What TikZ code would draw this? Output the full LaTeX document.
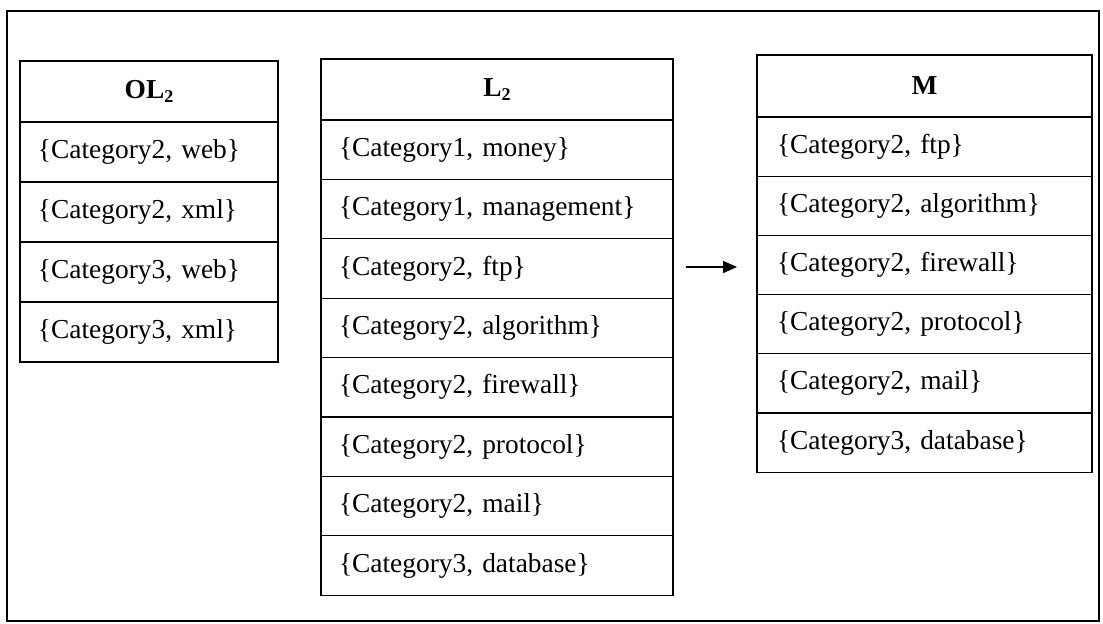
\documentclass[tikz,border=0pt]{standalone}
\usepackage{fontspec}
\setmainfont{Liberation Serif}
\usetikzlibrary{positioning,arrows.meta}

\begin{document}
\begin{tikzpicture}[x=0.5pt,y=-0.5pt]
\tikzset{every node/.style={inner sep=0pt, outer sep=0pt, font=\fontsize{13.7}{16}\selectfont}}
\tikzset{olcell/.style={draw, line width=0.6pt, minimum width=129pt, minimum height=30pt, inner xsep=9pt, text width=111pt, align=left}}
\tikzset{lcell/.style={draw, line width=0.6pt, minimum width=176pt, minimum height=29.7pt, inner xsep=9pt, text width=158pt, align=left}}
\tikzset{mcell/.style={draw, line width=0.6pt, minimum width=167.5pt, minimum height=29.6pt, inner xsep=10pt, text width=147.5pt, align=left}}
\tikzset{head/.style={align=center, minimum height=30.5pt, font=\fontsize{13.7}{16}\selectfont\bfseries}}
\newcommand{\hsub}[1]{\raisebox{-0.35ex}{\fontsize{9}{10}\selectfont #1}}
\useasboundingbox (0,0) rectangle (1103,624);
% outer frame
\draw [line width=1pt] (7,11) rectangle (1099,621);
% table OL2
\node [olcell, head, anchor=north west] (olh) at (20,61) {OL\hsub{2}};
\node [olcell, below=0pt of olh] (ol1) {\{Category2, web\}};
\node [olcell, below=0pt of ol1] (ol2) {\{Category2, xml\}};
\node [olcell, below=0pt of ol2] (ol3) {\{Category3, web\}};
\node [olcell, below=0pt of ol3] (ol4) {\{Category3, xml\}};
% table L2
\node [lcell, head, anchor=north west] (lh) at (321,59) {L\hsub{2}};
\node [lcell, below=0pt of lh] (l1) {\{Category1, money\}};
\node [lcell, below=0pt of l1] (l2) {\{Category1, management\}};
\node [lcell, below=0pt of l2] (l3) {\{Category2, ftp\}};
\node [lcell, below=0pt of l3] (l4) {\{Category2, algorithm\}};
\node [lcell, below=0pt of l4] (l5) {\{Category2, firewall\}};
\node [lcell, below=0pt of l5] (l6) {\{Category2, protocol\}};
\node [lcell, below=0pt of l6] (l7) {\{Category2, mail\}};
\node [lcell, below=0pt of l7] (l8) {\{Category3, database\}};
% table M
\node [mcell, head, anchor=north west, minimum height=31pt] (mh) at (757,55) {M};
\node [mcell, below=0pt of mh] (m1) {\{Category2, ftp\}};
\node [mcell, below=0pt of m1] (m2) {\{Category2, algorithm\}};
\node [mcell, below=0pt of m2] (m3) {\{Category2, firewall\}};
\node [mcell, below=0pt of m3] (m4) {\{Category2, protocol\}};
\node [mcell, below=0pt of m4] (m5) {\{Category2, mail\}};
\node [mcell, below=0pt of m5] (m6) {\{Category3, database\}};
% arrow
\coordinate (arrs) at (686,267);
\coordinate (arre) at (737,267);
\draw [line width=0.8pt, -{Triangle[length=7pt,width=6pt]}] (arrs) -- (arre);
\end{tikzpicture}
\end{document}
